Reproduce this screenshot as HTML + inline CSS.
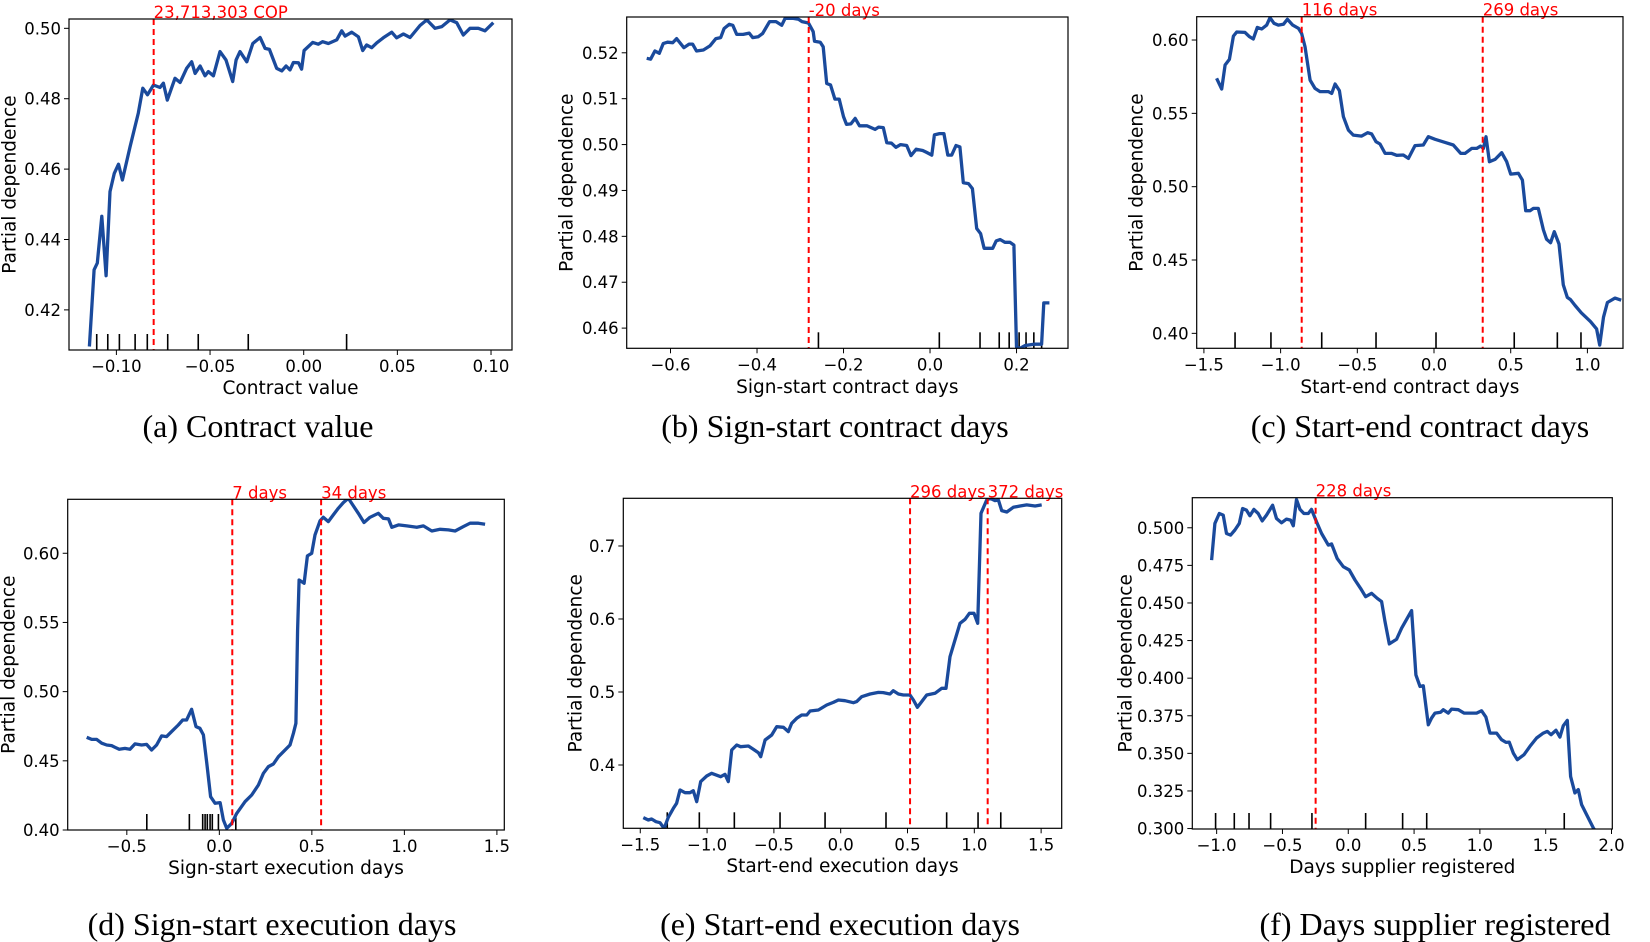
<!DOCTYPE html>
<html><head><meta charset="utf-8">
<style>
html,body{margin:0;padding:0;background:#fff;}
svg{display:block;}
.tk{font-family:"DejaVu Sans","Liberation Sans",sans-serif;font-size:16.5px;fill:#000;}
.lab{font-family:"DejaVu Sans","Liberation Sans",sans-serif;font-size:18.5px;fill:#000;}
.cap{font-family:"Liberation Serif",serif;font-size:32px;fill:#000;}
.ann{font-family:"DejaVu Sans","Liberation Sans",sans-serif;font-size:16.5px;fill:#ff0000;}
</style></head>
<body>
<svg id="fig" width="1650" height="942" viewBox="0 0 1650 942"></svg>
<script>
// ---- Data (a) Contract value ----
const aX=[-0.1144,-0.1119,-0.1102,-0.1078,-0.1055,-0.1034,-0.1011,-0.0989,-0.0968,-0.0927,-0.0883,-0.0859,-0.0834,-0.0802,-0.0767,-0.0749,-0.0728,-0.0687,-0.0660,-0.0625,-0.0598,-0.0580,-0.0553,-0.0527,-0.0509,-0.0482,-0.0447,-0.0415,-0.0379,-0.0361,-0.0340,-0.0304,-0.0272,-0.0233,-0.0206,-0.0183,-0.0144,-0.0117,-0.0094,-0.0073,-0.0055,-0.0028,-0.0011,0.0002,0.0048,0.0078,0.0101,0.0132,0.0176,0.0203,0.0221,0.0256,0.0292,0.0315,0.0336,0.0363,0.0390,0.0425,0.0470,0.0496,0.0532,0.0568,0.0621,0.0657,0.0701,0.0737,0.0781,0.0817,0.0852,0.0888,0.0932,0.0968,0.1012];
const aY=[0.4096,0.4314,0.4333,0.4466,0.4297,0.4536,0.4588,0.4614,0.4569,0.4664,0.4759,0.4830,0.4811,0.4839,0.4832,0.4844,0.4796,0.4858,0.4846,0.4886,0.4905,0.4872,0.4893,0.4865,0.4877,0.4865,0.4934,0.4910,0.4849,0.4910,0.4934,0.4905,0.4957,0.4974,0.4943,0.4940,0.4886,0.4879,0.4893,0.4882,0.4903,0.4902,0.4884,0.4937,0.4960,0.4955,0.4962,0.4957,0.4967,0.4993,0.4978,0.4989,0.4976,0.4937,0.4953,0.4945,0.4959,0.4973,0.4989,0.4973,0.4984,0.4974,0.5008,0.5024,0.5000,0.5005,0.5024,0.5016,0.4981,0.5000,0.5000,0.4993,0.5016];
const aRug=[-0.1105,-0.1046,-0.0984,-0.0900,-0.0835,-0.0726,-0.0563,-0.0296,0.0229];
const aThr=[-0.0801];
const aThrLabels=["23,713,303 COP"];
const aXTicks=[-0.10,-0.05,0.00,0.05,0.10];
const aXTickLabels=["−0.10","−0.05","0.00","0.05","0.10"];
const aYTicks=[0.42,0.44,0.46,0.48,0.50];
const aYTickLabels=["0.42","0.44","0.46","0.48","0.50"];

// ---- Data (b) Sign-start contract days ----
const bX=[-0.655,-0.646,-0.636,-0.626,-0.617,-0.607,-0.595,-0.586,-0.569,-0.557,-0.549,-0.540,-0.524,-0.509,-0.495,-0.484,-0.476,-0.464,-0.456,-0.447,-0.432,-0.418,-0.410,-0.397,-0.387,-0.371,-0.356,-0.343,-0.335,-0.316,-0.304,-0.296,-0.281,-0.270,-0.267,-0.254,-0.247,-0.239,-0.230,-0.220,-0.210,-0.200,-0.193,-0.183,-0.173,-0.163,-0.146,-0.127,-0.119,-0.108,-0.100,-0.089,-0.079,-0.068,-0.054,-0.044,-0.032,-0.017,-0.008,0.004,0.010,0.022,0.032,0.041,0.050,0.060,0.069,0.077,0.089,0.098,0.108,0.117,0.125,0.145,0.153,0.162,0.173,0.185,0.194,0.200,0.208,0.220,0.240,0.258,0.263,0.276];
const bY=[0.5188,0.5186,0.5204,0.5199,0.5220,0.5223,0.5222,0.5231,0.5211,0.5219,0.5219,0.5204,0.5206,0.5215,0.5231,0.5233,0.5253,0.5262,0.5260,0.5240,0.5240,0.5243,0.5233,0.5235,0.5242,0.5268,0.5268,0.5260,0.5275,0.5275,0.5273,0.5268,0.5265,0.5246,0.5225,0.5223,0.5213,0.5133,0.5130,0.5099,0.5099,0.5061,0.5044,0.5045,0.5057,0.5041,0.5041,0.5033,0.5038,0.5037,0.5004,0.5003,0.4994,0.5000,0.4998,0.4976,0.4990,0.4987,0.4983,0.4977,0.5021,0.5024,0.5024,0.4977,0.4977,0.4998,0.4995,0.4917,0.4915,0.4904,0.4817,0.4806,0.4774,0.4774,0.4790,0.4793,0.4787,0.4787,0.4781,0.4559,0.4556,0.4562,0.4565,0.4565,0.4655,0.4655];
const bRug=[-0.258,0.0215,0.1156,0.160,0.183,0.206,0.222,0.240,0.258];
const bThr=[-0.2805];
const bThrLabels=["-20 days"];
const bXTicks=[-0.6,-0.4,-0.2,0.0,0.2];
const bXTickLabels=["−0.6","−0.4","−0.2","0.0","0.2"];
const bYTicks=[0.46,0.47,0.48,0.49,0.50,0.51,0.52];
const bYTickLabels=["0.46","0.47","0.48","0.49","0.50","0.51","0.52"];

// ---- Data (c) Start-end contract days ----
const cX=[-1.417,-1.384,-1.362,-1.334,-1.308,-1.286,-1.232,-1.204,-1.178,-1.152,-1.123,-1.091,-1.069,-1.043,-1.015,-0.982,-0.956,-0.921,-0.884,-0.863,-0.841,-0.808,-0.776,-0.743,-0.689,-0.667,-0.645,-0.617,-0.591,-0.558,-0.526,-0.472,-0.432,-0.406,-0.378,-0.352,-0.319,-0.276,-0.243,-0.200,-0.167,-0.124,-0.070,-0.037,0.007,0.072,0.126,0.174,0.202,0.246,0.278,0.304,0.322,0.339,0.361,0.398,0.441,0.474,0.500,0.550,0.576,0.598,0.626,0.648,0.680,0.713,0.734,0.760,0.784,0.815,0.843,0.869,0.89,0.92,0.96,1.02,1.06,1.08,1.105,1.13,1.18,1.22];
const cY=[0.5739,0.5666,0.5830,0.5868,0.6027,0.6055,0.6052,0.6023,0.6007,0.6086,0.6075,0.6102,0.6152,0.6114,0.6102,0.6107,0.6141,0.6102,0.6080,0.6045,0.5955,0.5727,0.5670,0.5648,0.5648,0.5636,0.5700,0.5655,0.5477,0.5386,0.5352,0.5345,0.5368,0.5359,0.5307,0.5291,0.5227,0.5227,0.5214,0.5216,0.5193,0.5280,0.5284,0.5341,0.5323,0.5302,0.5284,0.5227,0.5227,0.5261,0.5261,0.5277,0.5261,0.5341,0.5170,0.5186,0.5232,0.5170,0.5086,0.5091,0.5045,0.4836,0.4836,0.4852,0.4852,0.4705,0.4641,0.4618,0.4693,0.4609,0.4330,0.4245,0.423,0.419,0.414,0.408,0.403,0.392,0.411,0.421,0.424,0.4226];
const cRug=[-1.297,-1.063,-0.732,-0.378,0.013,0.523,0.804,0.958];
const cThr=[-0.8625,0.3175];
const cThrLabels=["116 days","269 days"];
const cXTicks=[-1.5,-1.0,-0.5,0.0,0.5,1.0];
const cXTickLabels=["−1.5","−1.0","−0.5","0.0","0.5","1.0"];
const cYTicks=[0.40,0.45,0.50,0.55,0.60];
const cYTickLabels=["0.40","0.45","0.50","0.55","0.60"];

// ---- Data (d) Sign-start execution days ----
const dX=[-0.717,-0.690,-0.663,-0.636,-0.609,-0.582,-0.564,-0.541,-0.510,-0.483,-0.456,-0.420,-0.393,-0.366,-0.339,-0.312,-0.285,-0.258,-0.222,-0.198,-0.177,-0.150,-0.126,-0.105,-0.086,-0.068,-0.047,-0.023,0.004,0.022,0.040,0.067,0.094,0.139,0.175,0.211,0.238,0.265,0.292,0.319,0.346,0.382,0.400,0.414,0.423,0.431,0.458,0.476,0.499,0.517,0.544,0.562,0.589,0.616,0.643,0.670,0.697,0.721,0.751,0.782,0.814,0.859,0.886,0.914,0.932,0.968,1.013,1.067,1.103,1.148,1.193,1.238,1.274,1.319,1.355,1.400,1.436];
const dY=[0.4670,0.4655,0.4655,0.4627,0.4614,0.4610,0.4598,0.4583,0.4590,0.4583,0.4622,0.4614,0.4619,0.4578,0.4614,0.4680,0.4675,0.4711,0.4759,0.4795,0.4795,0.4872,0.4747,0.4735,0.4687,0.4482,0.4241,0.4193,0.4198,0.4072,0.4012,0.4048,0.4120,0.4205,0.4253,0.4325,0.4410,0.4458,0.4477,0.4530,0.4566,0.4614,0.4699,0.4771,0.5446,0.5807,0.5783,0.5981,0.6000,0.6133,0.6234,0.6260,0.6229,0.6277,0.6325,0.6366,0.6398,0.6349,0.6289,0.6222,0.6260,0.6289,0.6253,0.6248,0.6188,0.6205,0.6198,0.6188,0.6198,0.6161,0.6173,0.6169,0.6161,0.6193,0.6217,0.6217,0.6210];
const dRug=[-0.392,-0.162,-0.09,-0.077,-0.065,-0.05,-0.038,-0.005,0.089];
const dThr=[0.070,0.55];
const dThrLabels=["7 days","34 days"];
const dXTicks=[-0.5,0.0,0.5,1.0,1.5];
const dXTickLabels=["−0.5","0.0","0.5","1.0","1.5"];
const dYTicks=[0.40,0.45,0.50,0.55,0.60];
const dYTickLabels=["0.40","0.45","0.50","0.55","0.60"];

// ---- Data (e) Start-end execution days ----
const eX=[-1.477,-1.440,-1.415,-1.382,-1.352,-1.322,-1.290,-1.253,-1.228,-1.203,-1.165,-1.128,-1.103,-1.078,-1.048,-1.003,-0.966,-0.898,-0.866,-0.841,-0.816,-0.778,-0.749,-0.691,-0.654,-0.616,-0.599,-0.566,-0.516,-0.479,-0.429,-0.392,-0.367,-0.329,-0.292,-0.254,-0.229,-0.167,-0.105,-0.055,-0.017,0.032,0.095,0.120,0.157,0.220,0.282,0.319,0.369,0.394,0.432,0.469,0.519,0.544,0.574,0.606,0.644,0.706,0.756,0.788,0.818,0.848,0.893,0.931,0.963,0.998,1.025,1.050,1.093,1.118,1.155,1.180,1.205,1.243,1.292,1.342,1.392,1.455,1.504];
const eY=[0.3279,0.3247,0.3260,0.3224,0.3210,0.3132,0.3283,0.3406,0.3475,0.3658,0.3621,0.3621,0.3648,0.3498,0.3772,0.3849,0.3886,0.3840,0.3872,0.3772,0.4205,0.4274,0.4251,0.4260,0.4215,0.4169,0.4114,0.4342,0.4411,0.4525,0.4516,0.4457,0.4571,0.4639,0.4685,0.4685,0.4740,0.4753,0.4822,0.4858,0.4890,0.4881,0.4854,0.4868,0.4936,0.4973,0.4995,0.4991,0.4973,0.5018,0.4973,0.4959,0.4959,0.4890,0.4790,0.4868,0.4959,0.4982,0.5050,0.5050,0.5484,0.5667,0.5941,0.5995,0.6078,0.6078,0.5941,0.7447,0.7630,0.7653,0.7621,0.7630,0.7484,0.7466,0.7530,0.7548,0.7562,0.7548,0.7562];
const eRug=[-1.298,-1.058,-0.796,-0.454,-0.117,0.339,0.793,1.028,1.198];
const eThr=[0.519,1.100];
const eThrLabels=["296 days","372 days"];
const eXTicks=[-1.5,-1.0,-0.5,0.0,0.5,1.0,1.5];
const eXTickLabels=["−1.5","−1.0","−0.5","0.0","0.5","1.0","1.5"];
const eYTicks=[0.4,0.5,0.6,0.7];
const eYTickLabels=["0.4","0.5","0.6","0.7"];

// ---- Data (f) Days supplier registered ----
const fX=[-1.038,-1.013,-0.980,-0.950,-0.925,-0.894,-0.861,-0.828,-0.803,-0.773,-0.747,-0.717,-0.684,-0.654,-0.621,-0.575,-0.545,-0.507,-0.469,-0.438,-0.418,-0.393,-0.367,-0.337,-0.304,-0.279,-0.241,-0.203,-0.152,-0.127,-0.084,-0.038,0.008,0.051,0.094,0.132,0.177,0.220,0.253,0.279,0.312,0.367,0.405,0.448,0.481,0.514,0.545,0.570,0.608,0.633,0.659,0.702,0.722,0.760,0.785,0.836,0.879,0.925,0.975,1.013,1.046,1.077,1.127,1.165,1.198,1.223,1.254,1.284,1.335,1.380,1.431,1.482,1.512,1.540,1.578,1.608,1.634,1.664,1.689,1.722,1.748,1.773,1.811,1.862,1.887];
const fY=[0.4785,0.5029,0.5095,0.5084,0.4962,0.4951,0.4985,0.5029,0.5128,0.5117,0.5080,0.5122,0.5095,0.5046,0.5084,0.5150,0.5062,0.5033,0.5058,0.5051,0.5013,0.5188,0.5122,0.5095,0.5095,0.5122,0.5040,0.4962,0.4885,0.4892,0.4796,0.4741,0.4719,0.4653,0.4597,0.4542,0.4564,0.4531,0.4509,0.4376,0.4228,0.4259,0.4332,0.4398,0.4449,0.4022,0.3945,0.3949,0.3690,0.3735,0.3768,0.3774,0.3790,0.3768,0.3794,0.3790,0.3768,0.3768,0.3768,0.3783,0.3741,0.3635,0.3635,0.3591,0.3573,0.3575,0.3502,0.3458,0.3491,0.3546,0.3602,0.3635,0.3646,0.3624,0.3653,0.3608,0.3684,0.3719,0.3347,0.3237,0.3259,0.3159,0.3093,0.3004,0.2971];
const fRug=[-1.008,-0.866,-0.754,-0.59,-0.276,0.132,0.413,0.596,1.641];
const fThr=[-0.248];
const fThrLabels=["228 days"];
const fXTicks=[-1.0,-0.5,0.0,0.5,1.0,1.5,2.0];
const fXTickLabels=["−1.0","−0.5","0.0","0.5","1.0","1.5","2.0"];
const fYTicks=[0.300,0.325,0.350,0.375,0.400,0.425,0.450,0.475,0.500];
const fYTickLabels=["0.300","0.325","0.350","0.375","0.400","0.425","0.450","0.475","0.500"];

const NS="http://www.w3.org/2000/svg";
const svg=document.getElementById('fig');
function mk(tag,attrs,parent){const e=document.createElementNS(NS,tag);for(const k in attrs)e.setAttribute(k,attrs[k]);(parent||svg).appendChild(e);return e;}

const panels=[
 {id:'a',L:69,R:512,T:19,B:350,x0:-0.1253,x1:0.1112,y0:0.4086,y1:0.50265,X:aX,Y:aY,rug:aRug,thr:aThr,thrL:aThrLabels,xt:aXTicks,xtl:aXTickLabels,yt:aYTicks,ytl:aYTickLabels,xlab:"Contract value",ylx:10,cap:"(a) Contract value",capX:258,capY:437,xlY:394},
 {id:'b',L:626.7,R:1068,T:17,B:348.3,x0:-0.7013,x1:0.319,y0:0.4556,y1:0.5278,X:bX,Y:bY,rug:bRug,thr:bThr,thrL:bThrLabels,xt:bXTicks,xtl:bXTickLabels,yt:bYTicks,ytl:bYTickLabels,xlab:"Sign-start contract days",ylx:567,cap:"(b) Sign-start contract days",capX:835,capY:437,xlY:393},
 {id:'c',L:1196.7,R:1623,T:16.7,B:348.3,x0:-1.547,x1:1.232,y0:0.3898,y1:0.6159,X:cX,Y:cY,rug:cRug,thr:cThr,thrL:cThrLabels,xt:cXTicks,xtl:cXTickLabels,yt:cYTicks,ytl:cYTickLabels,xlab:"Start-end contract days",ylx:1137,cap:"(c) Start-end contract days",capX:1420,capY:437,xlY:393},
 {id:'d',L:67.7,R:504.3,T:499.3,B:830,x0:-0.8195,x1:1.54,y0:0.40,y1:0.639,X:dX,Y:dY,rug:dRug,thr:dThr,thrL:dThrLabels,xt:dXTicks,xtl:dXTickLabels,yt:dYTicks,ytl:dYTickLabels,xlab:"Sign-start execution days",ylx:9,cap:"(d) Sign-start execution days",capX:272,capY:935,xlY:874},
 {id:'e',L:623.3,R:1061.7,T:498.3,B:828.3,x0:-1.627,x1:1.654,y0:0.3133,y1:0.7653,X:eX,Y:eY,rug:eRug,thr:eThr,thrL:eThrLabels,xt:eXTicks,xtl:eXTickLabels,yt:eYTicks,ytl:eYTickLabels,xlab:"Start-end execution days",ylx:576,cap:"(e) Start-end execution days",capX:840,capY:935,xlY:872},
 {id:'f',L:1192.3,R:1612.3,T:497.7,B:829,x0:-1.185,x1:2.006,y0:0.2997,y1:0.52,X:fX,Y:fY,rug:fRug,thr:fThr,thrL:fThrLabels,xt:fXTicks,xtl:fXTickLabels,yt:fYTicks,ytl:fYTickLabels,xlab:"Days supplier registered",ylx:1126,cap:"(f) Days supplier registered",capX:1435,capY:935,xlY:873}
];

panels.forEach(p=>{
  const g=mk('g',{});
  
  
  const sx=v=>p.L+(v-p.x0)/(p.x1-p.x0)*(p.R-p.L);
  const sy=v=>p.B-(v-p.y0)/(p.y1-p.y0)*(p.B-p.T);
  const cp=mk('clipPath',{id:'clip'+p.id},g);
  mk('rect',{x:p.L,y:p.T,width:p.R-p.L,height:p.B-p.T},cp);
  p.rug.forEach(v=>{
    const l=mk('line',{x1:sx(v),x2:sx(v),y1:p.B,y2:p.B-16,stroke:'#000','stroke-width':1.6},g);
    
    
  });
  const d=p.X.map((x,i)=>(i?'L':'M')+sx(x).toFixed(1)+','+sy(p.Y[i]).toFixed(1)).join('');
  const path=mk('path',{d:d,fill:'none',stroke:'#1a4a9c','stroke-width':3.3,'stroke-linejoin':'round','clip-path':'url(#clip'+p.id+')'},g);
  
  
  p.thr.forEach((v,i)=>{
    const l=mk('line',{x1:sx(v),x2:sx(v),y1:p.T,y2:p.B,stroke:'#ff0000','stroke-width':2,'stroke-dasharray':'6,4'},g);
    
    
    const t=mk('text',{x:sx(v),y:p.T-1,class:'ann'},g);
    t.textContent=p.thrL[i];
    
    
  });
  const fr=mk('rect',{x:p.L,y:p.T,width:p.R-p.L,height:p.B-p.T,fill:'none',stroke:'#000','stroke-width':1.2},g);
  
  
  p.xt.forEach((v,i)=>{
    const x=sx(v);
    mk('line',{x1:x,x2:x,y1:p.B,y2:p.B+5,stroke:'#000','stroke-width':1},g);
    const t=mk('text',{x:x,y:p.B+22,class:'tk','text-anchor':'middle'},g);
    t.textContent=p.xtl[i];
    
    
  });
  p.yt.forEach((v,i)=>{
    const y=sy(v);
    mk('line',{x1:p.L-5,x2:p.L,y1:y,y2:y,stroke:'#000','stroke-width':1},g);
    const t=mk('text',{x:p.L-8,y:y+6,class:'tk','text-anchor':'end'},g);
    t.textContent=p.ytl[i];
    
    
  });
  const xl=mk('text',{x:(p.L+p.R)/2,y:p.xlY,class:'lab','text-anchor':'middle'},g);
  xl.textContent=p.xlab;
  
  
  const yc=(p.T+p.B)/2;
  const yl=mk('text',{x:p.ylx,y:yc,class:'lab','text-anchor':'middle','dominant-baseline':'central',transform:'rotate(-90 '+p.ylx+' '+yc+')'},g);
  yl.textContent="Partial dependence";
  
  
  const cap=mk('text',{x:p.capX,y:p.capY,class:'cap','text-anchor':'middle'},g);
  cap.textContent=p.cap;
  
  
});
</script>
</body></html>
